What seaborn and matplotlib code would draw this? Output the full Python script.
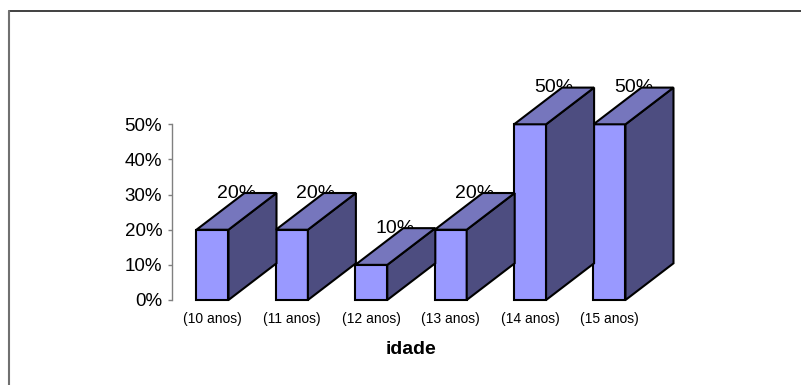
import matplotlib
matplotlib.use("Agg")
import matplotlib.pyplot as plt
from matplotlib.patches import Polygon
from matplotlib.lines import Line2D
from matplotlib.ticker import PercentFormatter
import numpy as np
import seaborn as sns

# Data
idades = ["(10 anos)", "(11 anos)", "(12 anos)", "(13 anos)", "(14 anos)", "(15 anos)"]
percentuais = [0.20, 0.20, 0.10, 0.20, 0.50, 0.50]
rotulos = ["20%", "20%", "10%", "20%", "50%", "50%"]
y_ticks = [0.0, 0.1, 0.2, 0.3, 0.4, 0.5]

# Style
COR_FRENTE = "#9999FF"
COR_LADO = "#4D4D80"
COR_TOPO = "#7676BD"
LARGURA = 0.403
PROF_DX = 48.0    # oblique depth, in pixels
PROF_DY = 36.7
LW = 1.5

sns.set_theme(style="white")
plt.rcParams["font.family"] = ["Liberation Sans", "DejaVu Sans"]

W, H = 801, 385
fig = plt.figure(figsize=(W / 100, H / 100), dpi=100)
fig.patch.set_facecolor("white")
ax = fig.add_axes([172 / W, 85 / H, (700 - 172) / W, 175.7 / H])
ax.set_facecolor("none")

sns.barplot(x=idades, y=percentuais, color=COR_FRENTE, saturation=1,
            width=LARGURA, edgecolor="black", linewidth=LW, ax=ax, zorder=1)

ax.set_xlim(-0.51, 6.14)
ax.set_ylim(0, 0.5)

# Oblique side and top faces, built in display space from each bar's data extent
to_disp = ax.transData.transform
for i, (v, lab) in enumerate(zip(percentuais, rotulos)):
    x0, x1 = i - LARGURA / 2, i + LARGURA / 2
    bl = to_disp((x1, 0)); tr = to_disp((x1, v)); tl = to_disp((x0, v))
    off = np.array([PROF_DX, PROF_DY])
    lado = Polygon([bl, tr, tr + off, bl + off], closed=True, transform=None,
                   facecolor=COR_LADO, edgecolor="black", linewidth=LW,
                   joinstyle="miter", zorder=2 + i * 3, clip_on=False)
    topo = Polygon([tl, tr, tr + off, tl + off], closed=True, transform=None,
                   facecolor=COR_TOPO, edgecolor="black", linewidth=LW,
                   joinstyle="miter", zorder=2 + i * 3, clip_on=False)
    fig.add_artist(lado)
    fig.add_artist(topo)
    ax.annotate(lab, xy=(i, v), xytext=(PROF_DX / 2 * 0.72, PROF_DY * 0.72),
                textcoords="offset points", ha="center", va="center",
                fontsize=14, color="black", zorder=50, annotation_clip=False)

# Re-draw front faces above the previous bar's depth faces
for i, p in enumerate(ax.patches):
    p.set_zorder(3 + i * 3)
    p.set_clip_on(False)

ax.set_yticks(y_ticks)
ax.yaxis.set_major_formatter(PercentFormatter(1.0, decimals=0))
ax.tick_params(axis="y", left=True, length=3, width=1, color="#808080",
               direction="out", pad=4, labelsize=13.5, labelcolor="black")
ax.tick_params(axis="x", bottom=False, length=0, pad=9, labelsize=10,
               labelcolor="black")
for s in ["top", "right", "bottom"]:
    ax.spines[s].set_visible(False)
ax.spines["left"].set_color("#808080")
ax.spines["left"].set_linewidth(1)
ax.set_xlabel("")
ax.set_ylabel("")

fig.text(411 / W, 1 - 349 / H, "idade", ha="center", va="center",
         fontsize=14, fontweight="bold", color="black")

# Chart area frame
fig.add_artist(Line2D([8.5 / W, 1.0], [1 - 11 / H, 1 - 11 / H],
                      transform=fig.transFigure, color="#202020", lw=1.2))
fig.add_artist(Line2D([8.5 / W, 8.5 / W], [0.0, 1 - 11 / H],
                      transform=fig.transFigure, color="#707070", lw=1.5))

fig.savefig("out.png", dpi=100)
